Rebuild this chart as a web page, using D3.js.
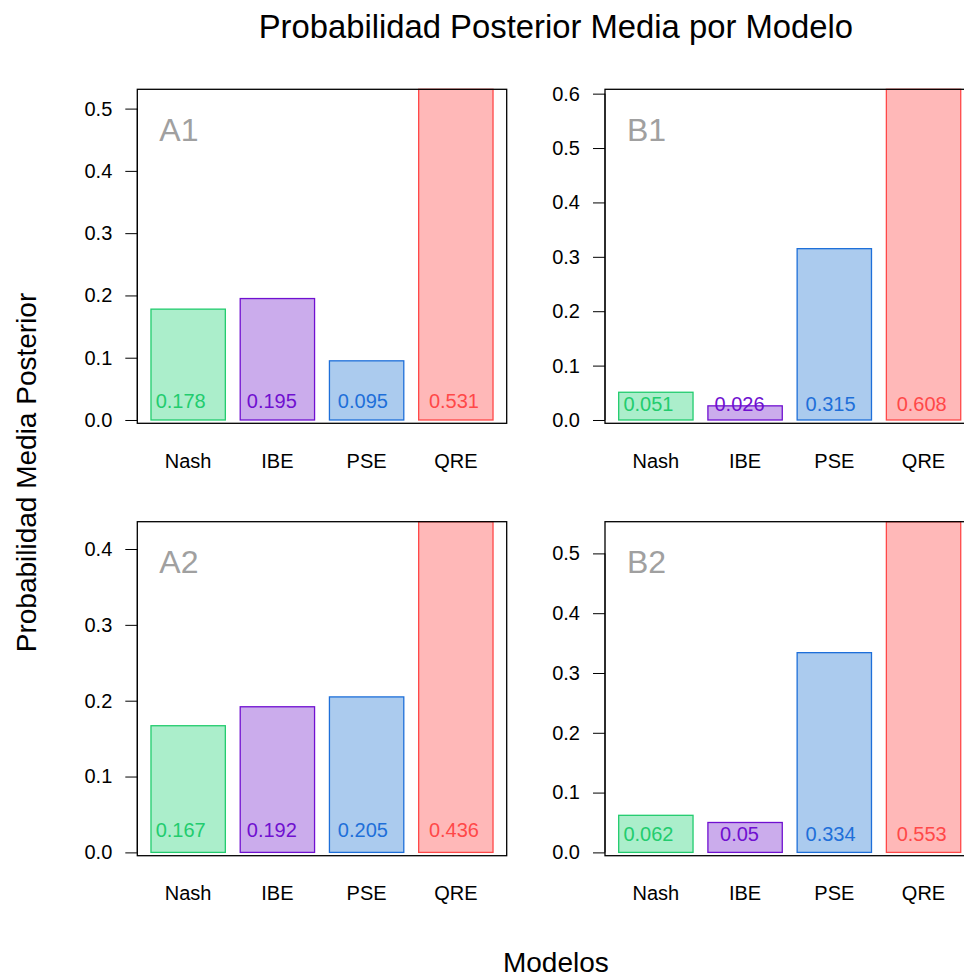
<!DOCTYPE html>
<html>
<head>
<meta charset="utf-8">
<script src="https://cdn.jsdelivr.net/npm/d3@7"></script>
<style>
  body { margin: 0; background: #fff; }
  svg { display: block; font-family: "Liberation Sans", Arial, Helvetica, sans-serif; }
</style>
</head>
<body>
<div id="chart"></div>
<script>
const models = ["Nash", "IBE", "PSE", "QRE"];
const panelNames = ["A1", "B1", "A2", "B2"];

const valuesA1 = [0.178, 0.195, 0.095, 0.531];
const valuesB1 = [0.051, 0.026, 0.315, 0.608];
const valuesA2 = [0.167, 0.192, 0.205, 0.436];
const valuesB2 = [0.062, 0.05, 0.334, 0.553];

const ticksA1 = [0, 0.1, 0.2, 0.3, 0.4, 0.5];
const ticksB1 = [0, 0.1, 0.2, 0.3, 0.4, 0.5, 0.6];
const ticksA2 = [0, 0.1, 0.2, 0.3, 0.4];
const ticksB2 = [0, 0.1, 0.2, 0.3, 0.4, 0.5];

const fillColors = ["#abeecb", "#cbacec", "#abcbee", "#ffb8b8"];
const lineColors = ["#22cc6e", "#7010d0", "#1e6fd9", "#ff4848"];

const title = "Probabilidad Posterior Media por Modelo";
const xTitle = "Modelos";
const yTitle = "Probabilidad Media Posterior";

const w = 964, h = 978;
const boxW = 369.4, boxH = 334;
const colX = [137.3, 605];
const rowY = [89.3, 521.7];

const panels = [
  { name: panelNames[0], values: valuesA1, ticks: ticksA1, col: 0, row: 0 },
  { name: panelNames[1], values: valuesB1, ticks: ticksB1, col: 1, row: 0 },
  { name: panelNames[2], values: valuesA2, ticks: ticksA2, col: 0, row: 1 },
  { name: panelNames[3], values: valuesB2, ticks: ticksB2, col: 1, row: 1 }
];

const svg = d3.select("#chart").append("svg")
  .attr("width", w)
  .attr("height", h);

// x scale like R barplot: bars of width 1, space 0.2, 4% padding
const xScale = d3.scaleLinear()
  .domain([0.2 - 0.04 * 4.6, 4.8 + 0.04 * 4.6])
  .range([0, boxW]);
const barW = xScale(1) - xScale(0);

panels.forEach(p => {
  const maxV = d3.max(p.values);
  const yScale = d3.scaleLinear()
    .domain([-0.01 * maxV, maxV])
    .range([boxH, 0]);

  const g = svg.append("g")
    .attr("transform", `translate(${colX[p.col]},${rowY[p.row]})`);

  g.selectAll("rect.bar")
    .data(p.values)
    .enter()
    .append("rect")
    .attr("class", "bar")
    .attr("x", (d, i) => xScale(0.2 + i * 1.2))
    .attr("y", d => yScale(d))
    .attr("width", barW)
    .attr("height", d => yScale(0) - yScale(d))
    .attr("fill", (d, i) => fillColors[i])
    .attr("stroke", (d, i) => lineColors[i])
    .attr("stroke-width", 1.3);

  // value labels near the base of each bar
  g.selectAll("text.val")
    .data(p.values)
    .enter()
    .append("text")
    .attr("class", "val")
    .attr("x", (d, i) => xScale(0.6 + i * 1.225))
    .attr("y", yScale(0.03))
    .attr("dy", "0.35em")
    .attr("text-anchor", "middle")
    .style("font-size", "20px")
    .attr("fill", (d, i) => lineColors[i])
    .text(d => String(d));

  // box
  g.append("rect")
    .attr("x", 0)
    .attr("y", 0)
    .attr("width", boxW)
    .attr("height", boxH)
    .attr("fill", "none")
    .attr("stroke", "#000")
    .attr("stroke-width", 1.3);

  const yAxis = d3.axisLeft(yScale)
    .tickValues(p.ticks)
    .tickFormat(d3.format(".1f"))
    .tickSize(12)
    .tickPadding(13);

  const ax = g.append("g").call(yAxis);
  ax.select(".domain").remove();
  ax.append("line")
    .attr("x1", 0).attr("x2", 0)
    .attr("y1", yScale(0))
    .attr("y2", yScale(d3.max(p.ticks)))
    .attr("stroke", "#000");
  ax.selectAll("text")
    .style("font-size", "20px")
    .style("font-family", "Liberation Sans, Arial, sans-serif")
    .attr("fill", "#000");
  ax.selectAll(".tick line").attr("stroke", "#000");

  // model names under the bars
  g.selectAll("text.cat")
    .data(models)
    .enter()
    .append("text")
    .attr("class", "cat")
    .attr("x", (d, i) => xScale(0.7 + i * 1.2))
    .attr("y", boxH + 44.6)
    .attr("text-anchor", "middle")
    .style("font-size", "20px")
    .text(d => d);

  g.append("text")
    .attr("x", 22)
    .attr("y", 51.4)
    .style("font-size", "32px")
    .attr("fill", "#a0a0a0")
    .text(p.name);
});

const midX = (colX[0] + colX[1] + boxW) / 2;
const midY = (rowY[0] + rowY[1] + boxH) / 2;

svg.append("text")
  .attr("x", midX)
  .attr("y", 38)
  .attr("text-anchor", "middle")
  .style("font-size", "32.8px")
  .text(title);

svg.append("text")
  .attr("x", midX)
  .attr("y", 972)
  .attr("text-anchor", "middle")
  .style("font-size", "28px")
  .text(xTitle);

svg.append("text")
  .attr("transform", `translate(36,${midY}) rotate(-90)`)
  .attr("text-anchor", "middle")
  .style("font-size", "28px")
  .text(yTitle);
</script>
</body>
</html>
